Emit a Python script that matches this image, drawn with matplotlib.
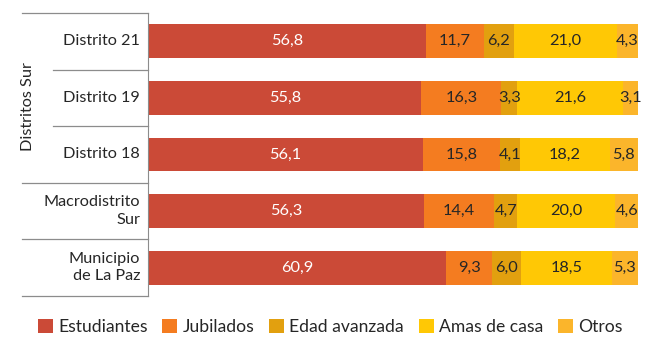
import matplotlib
matplotlib.use("Agg")
import matplotlib.pyplot as plt
import matplotlib.transforms as mtransforms
import numpy as np

plt.rcParams['font.family'] = ['Lato', 'DejaVu Sans']

# --- Data ---
categories = ["Distrito 21", "Distrito 19", "Distrito 18", "Macrodistrito\nSur", "Municipio\nde La Paz"]
series_names = ["Estudiantes", "Jubilados", "Edad avanzada", "Amas de casa", "Otros"]
estudiantes = [56.8, 55.8, 56.1, 56.3, 60.9]
jubilados = [11.7, 16.3, 15.8, 14.4, 9.3]
edad_avanzada = [6.2, 3.3, 4.1, 4.7, 6.0]
amas_de_casa = [21.0, 21.6, 18.2, 20.0, 18.5]
otros = [4.3, 3.1, 5.8, 4.6, 5.3]
group_label = "Distritos Sur"

series = [estudiantes, jubilados, edad_avanzada, amas_de_casa, otros]
colors = ["#CB4A37", "#F47C20", "#E2A00F", "#FFC805", "#FBB52B"]
text_colors = ["white", "#262626", "#262626", "#262626", "#262626"]

# --- Plot ---
fig = plt.figure(figsize=(6.5, 3.5), dpi=100)
ax = fig.add_axes([148 / 650, 1 - 296 / 350, 490 / 650, 283 / 350])

y = np.arange(len(categories))
left = np.zeros(len(categories))
for name, vals, col, tcol in zip(series_names, series, colors, text_colors):
    vals = np.array(vals)
    ax.barh(y, vals, left=left, height=0.6, color=col, label=name, edgecolor="none")
    for yi, l, v in zip(y, left, vals):
        ax.text(l + v / 2, yi, f"{v:.1f}".replace(".", ","), ha="center", va="center",
                color=tcol, fontsize=11.8)
    left += vals

ax.set_xlim(0, 100)
ax.set_ylim(len(categories) - 0.5, -0.5)
ax.set_xticks([])
ax.set_yticks([])
for s in ["top", "right", "bottom"]:
    ax.spines[s].set_visible(False)
ax.spines["left"].set_color("#8c8c8c")

# category labels and separators
trans = mtransforms.blended_transform_factory(ax.transAxes, ax.transData)
for yi, cat in zip(y, categories):
    ax.text(-0.016, yi, cat, transform=trans, ha="right", va="center",
            fontsize=11.7, color="#262626", linespacing=1.3)

bounds = np.arange(-0.5, len(categories), 1.0)
for b in bounds:
    x0 = -0.194 if b in (0.5, 1.5) else -0.257
    ax.plot([x0, 0], [b, b], transform=trans, color="#8c8c8c", lw=0.9, clip_on=False)

ax.text(-0.245, 1.15, group_label, transform=trans, rotation=90, ha="center", va="center",
        fontsize=11.7, color="#262626")

leg = fig.legend(loc="center", bbox_to_anchor=(0.508, 1 - 327 / 350), ncol=5, frameon=False,
                 fontsize=12.6, handlelength=0.85, handleheight=0.85, handletextpad=0.3,
                 columnspacing=0.85)
for t in leg.get_texts():
    t.set_color("#262626")

plt.savefig("out.png", dpi=100)
